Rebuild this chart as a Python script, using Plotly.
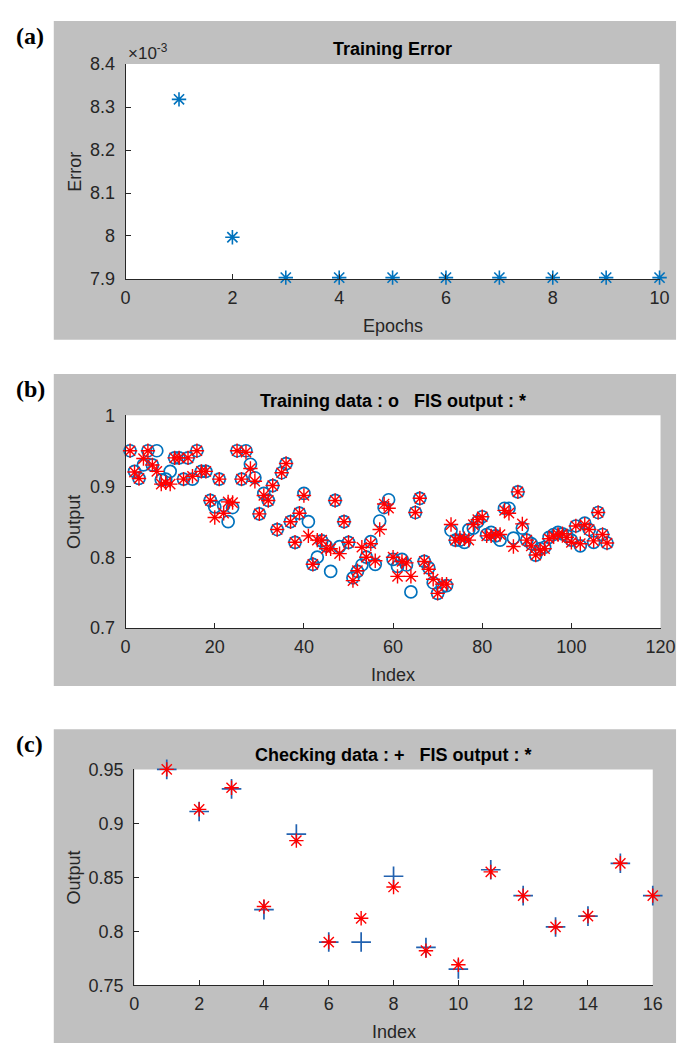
import plotly.graph_objects as go

# ---------------- data ----------------
epochs = [1, 2, 3, 4, 5, 6, 7, 8, 9, 10]
train_error = [8.318e-3, 7.997e-3, 7.903e-3, 7.903e-3, 7.903e-3,
               7.903e-3, 7.903e-3, 7.903e-3, 7.903e-3, 7.903e-3]
err_ticks = [7.9e-3, 8.0e-3, 8.1e-3, 8.2e-3, 8.3e-3, 8.4e-3]
err_ticktext = ["7.9", "8", "8.1", "8.2", "8.3", "8.4"]

train_index = list(range(1, 109))
train_data = [0.950, 0.921, 0.911, 0.930, 0.950, 0.930, 0.950, 0.909, 0.910, 0.921,
              0.940, 0.940, 0.910, 0.940, 0.910, 0.950, 0.921, 0.921, 0.880, 0.871,
              0.910, 0.873, 0.850, 0.870, 0.950, 0.910, 0.950, 0.931, 0.912, 0.861,
              0.890, 0.880, 0.901, 0.839, 0.919, 0.932, 0.850, 0.821, 0.862, 0.890,
              0.850, 0.790, 0.800, 0.823, 0.816, 0.780, 0.880, 0.815, 0.850, 0.821,
              0.771, 0.780, 0.789, 0.800, 0.822, 0.790, 0.851, 0.870, 0.881, 0.797,
              0.787, 0.797, 0.789, 0.751, 0.863, 0.883, 0.794, 0.785, 0.764, 0.749,
              0.758, 0.760, 0.838, 0.824, 0.824, 0.821, 0.839, 0.841, 0.850, 0.857,
              0.832, 0.835, 0.830, 0.824, 0.869, 0.869, 0.827, 0.892, 0.841, 0.824,
              0.819, 0.803, 0.812, 0.814, 0.828, 0.832, 0.835, 0.833, 0.830, 0.824,
              0.844, 0.816, 0.848, 0.839, 0.821, 0.863, 0.832, 0.820]
fis_train = [0.950, 0.920, 0.911, 0.939, 0.950, 0.930, 0.921, 0.903, 0.905, 0.903,
             0.940, 0.940, 0.910, 0.940, 0.914, 0.950, 0.921, 0.921, 0.880, 0.856,
             0.910, 0.862, 0.878, 0.877, 0.950, 0.910, 0.948, 0.925, 0.907, 0.861,
             0.887, 0.880, 0.901, 0.839, 0.919, 0.932, 0.850, 0.821, 0.862, 0.887,
             0.830, 0.790, 0.824, 0.824, 0.812, 0.812, 0.880, 0.805, 0.850, 0.821,
             0.767, 0.781, 0.814, 0.800, 0.819, 0.795, 0.839, 0.875, 0.869, 0.800,
             0.773, 0.794, 0.792, 0.773, 0.863, 0.883, 0.794, 0.783, 0.769, 0.749,
             0.762, 0.762, 0.846, 0.824, 0.827, 0.826, 0.824, 0.846, 0.853, 0.857,
             0.830, 0.830, 0.832, 0.832, 0.866, 0.862, 0.815, 0.892, 0.847, 0.824,
             0.816, 0.803, 0.810, 0.812, 0.826, 0.830, 0.832, 0.833, 0.828, 0.821,
             0.844, 0.819, 0.846, 0.839, 0.823, 0.863, 0.832, 0.820]

check_index = [1, 2, 3, 4, 5, 6, 7, 8, 9, 10, 11, 12, 13, 14, 15, 16]
check_data = [0.950, 0.911, 0.932, 0.820, 0.890, 0.790, 0.790, 0.851,
              0.785, 0.765, 0.857, 0.833, 0.804, 0.814, 0.863, 0.833]
fis_check = [0.950, 0.913, 0.933, 0.823, 0.884, 0.790, 0.812, 0.841,
             0.782, 0.769, 0.855, 0.833, 0.804, 0.814, 0.863, 0.833]

# ---------------- layout helpers ----------------
W, H = 685, 1050


def px(x):
    return x / W


def py(y):
    return 1 - y / H


BLUE = "#0072BD"
RED = "#FF0000"
PLUS_BLUE = "#2262B0"
AX = "#262626"
GRAY = "#C0C0C0"
FONT = "Liberation Sans, Arial, sans-serif"
FS = 18

# panel geometry in pixels
panels = {
    "a": dict(gray=(42, 683, 3, 328), plot=(116, 666, 47, 266)),
    "b": dict(gray=(42, 683, 363, 681), plot=(116, 667, 405, 622)),
    "c": dict(gray=(42, 683, 725, 1045), plot=(125, 659, 766, 986)),
}

fig = go.Figure()

fig.add_trace(go.Scatter(x=epochs, y=train_error, mode="markers",
                         marker=dict(symbol="asterisk-open", size=12, color=BLUE,
                                     line=dict(color=BLUE, width=1.6)),
                         cliponaxis=False, xaxis="x", yaxis="y",
                         showlegend=False))

fig.add_trace(go.Scatter(x=train_index, y=train_data, mode="markers",
                         marker=dict(symbol="circle-open", size=12, color=BLUE,
                                     line=dict(color=BLUE, width=1.7)),
                         cliponaxis=False, xaxis="x2", yaxis="y2",
                         showlegend=False))
fig.add_trace(go.Scatter(x=train_index, y=fis_train, mode="markers",
                         marker=dict(symbol="asterisk-open", size=12, color=RED,
                                     line=dict(color=RED, width=1.4)),
                         cliponaxis=False, xaxis="x2", yaxis="y2",
                         showlegend=False))

fig.add_trace(go.Scatter(x=check_index, y=check_data, mode="markers",
                         marker=dict(symbol="cross-thin-open", size=14, color=PLUS_BLUE,
                                     line=dict(color=PLUS_BLUE, width=1.7)),
                         cliponaxis=False, xaxis="x3", yaxis="y3",
                         showlegend=False))
fig.add_trace(go.Scatter(x=check_index, y=fis_check, mode="markers",
                         marker=dict(symbol="asterisk-open", size=12, color=RED,
                                     line=dict(color=RED, width=1.4)),
                         cliponaxis=False, xaxis="x3", yaxis="y3",
                         showlegend=False))

shapes = []
annotations = []
for key, p in panels.items():
    gx0, gx1, gy0, gy1 = p["gray"]
    x0, x1, y0, y1 = p["plot"]
    shapes.append(dict(type="rect", xref="paper", yref="paper", layer="below",
                       x0=px(gx0), x1=px(gx1), y0=py(gy1), y1=py(gy0),
                       fillcolor=GRAY, line=dict(width=0)))
    shapes.append(dict(type="rect", xref="paper", yref="paper", layer="below",
                       x0=px(x0), x1=px(x1), y0=py(y1), y1=py(y0),
                       fillcolor="white", line=dict(width=0)))
    annotations.append(dict(text="<b>(%s)</b>" % key, xref="paper", yref="paper",
                            x=px(1), y=py(gy0 + 15), xanchor="left", yanchor="middle",
                            showarrow=False,
                            font=dict(family="Liberation Serif, Times New Roman, serif",
                                      size=24, color="black")))


def axis_common(standoff):
    return dict(showgrid=False, zeroline=False, showline=True, linecolor=AX,
                linewidth=1.2, ticks="inside", ticklen=5, tickcolor=AX,
                tickwidth=1, mirror=False, ticklabelstandoff=standoff,
                tickfont=dict(family=FONT, size=FS, color=AX))


titles = {
    "a": "<b>Training Error</b>",
    "b": "<b>Training data : o   FIS output : *</b>",
    "c": "<b>Checking data : +   FIS output : *</b>",
}
xtitles = {"a": "Epochs", "b": "Index", "c": "Index"}
ytitles = {"a": "Error", "b": "Output", "c": "Output"}

for key, p in panels.items():
    x0, x1, y0, y1 = p["plot"]
    cx = (x0 + x1) / 2
    annotations.append(dict(text=titles[key], xref="paper", yref="paper",
                            x=px(cx), y=py(y0 - 15), xanchor="center", yanchor="middle",
                            showarrow=False, font=dict(family=FONT, size=FS, color="black")))
    annotations.append(dict(text=xtitles[key], xref="paper", yref="paper",
                            x=px(cx), y=py(y1 + 48), xanchor="center", yanchor="middle",
                            showarrow=False, font=dict(family=FONT, size=FS, color=AX)))
    annotations.append(dict(text=ytitles[key], xref="paper", yref="paper",
                            x=px(63), y=py((y0 + y1) / 2), xanchor="center", yanchor="middle",
                            textangle=-90, showarrow=False,
                            font=dict(family=FONT, size=FS, color=AX)))

annotations.append(dict(text="×10<sup>-3</sup>", xref="paper", yref="paper",
                        x=px(116), y=py(35), xanchor="left", yanchor="middle",
                        showarrow=False, font=dict(family=FONT, size=17, color=AX)))

pa, pb, pc = panels["a"]["plot"], panels["b"]["plot"], panels["c"]["plot"]

fig.update_layout(
    width=W, height=H, autosize=False,
    margin=dict(l=0, r=0, t=0, b=0),
    paper_bgcolor="white", plot_bgcolor="rgba(0,0,0,0)",
    shapes=shapes, annotations=annotations,
    xaxis=dict(domain=[px(pa[0]), px(pa[1])], anchor="y", range=[0, 10],
               tickvals=[0, 2, 4, 6, 8, 10], **axis_common(2)),
    yaxis=dict(domain=[py(pa[3]), py(pa[2])], anchor="x", range=[7.9e-3, 8.4e-3],
               tickvals=err_ticks, ticktext=err_ticktext, **axis_common(6)),
    xaxis2=dict(domain=[px(pb[0]), px(pb[1])], anchor="y2", range=[0, 120],
                tickvals=[0, 20, 40, 60, 80, 100, 120], **axis_common(2)),
    yaxis2=dict(domain=[py(pb[3]), py(pb[2])], anchor="x2", range=[0.7, 1.0],
                tickvals=[0.7, 0.8, 0.9, 1.0], ticktext=["0.7", "0.8", "0.9", "1"],
                **axis_common(6)),
    xaxis3=dict(domain=[px(pc[0]), px(pc[1])], anchor="y3", range=[0, 16],
                tickvals=[0, 2, 4, 6, 8, 10, 12, 14, 16], **axis_common(2)),
    yaxis3=dict(domain=[py(pc[3]), py(pc[2])], anchor="x3", range=[0.75, 0.95],
                tickvals=[0.75, 0.8, 0.85, 0.9, 0.95],
                ticktext=["0.75", "0.8", "0.85", "0.9", "0.95"], **axis_common(6)),
)

fig.write_html("out.html")
